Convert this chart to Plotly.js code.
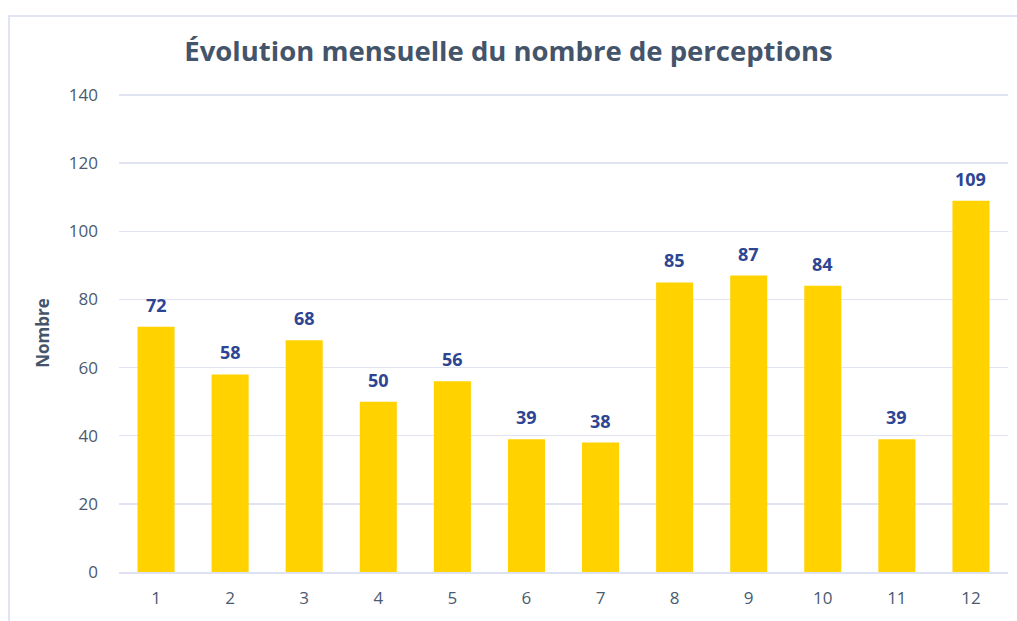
<!DOCTYPE html>
<html>
<head>
<meta charset="utf-8">
<script src="https://cdn.plot.ly/plotly-3.0.1.min.js"></script>
<style>
html,body{margin:0;padding:0;background:#fff;overflow:hidden;}
#wrap{position:relative;width:1017px;height:621px;}
#chart{width:1017px;height:621px;}
#frame{position:absolute;left:8px;top:15px;width:1030px;height:640px;border:2px solid #e0e4f3;box-sizing:border-box;pointer-events:none;}
</style>
</head>
<body>
<div id="wrap">
<div id="chart"></div>
<div id="frame"></div>
</div>
<script>
const months = ['1','2','3','4','5','6','7','8','9','10','11','12'];
const counts = [72, 58, 68, 50, 56, 39, 38, 85, 87, 84, 39, 109];
const yTicks = [0, 20, 40, 60, 80, 100, 120, 140];

const font = '"Segoe UI", "Open Sans", "Noto Sans", sans-serif';

const trace = {
  type: 'bar',
  x: months,
  y: counts,
  marker: {color: '#FFD200'},
  width: 0.5,
  hoverinfo: 'x+y'
};

const annotations = months.map((m, i) => ({
  x: i, y: counts[i], xref: 'x', yref: 'y',
  text: '<b>' + counts[i] + '</b>',
  showarrow: false, yanchor: 'bottom', yshift: 8,
  font: {family: font, size: 18, color: '#2E4593'}
}));

const layout = {
  width: 1017, height: 621,
  margin: {l: 119, r: 9, t: 94, b: 49},
  paper_bgcolor: '#ffffff', plot_bgcolor: '#ffffff',
  title: {
    text: '<b>Évolution mensuelle du nombre de perceptions</b>',
    font: {family: font, size: 27.5, color: '#44546A'},
    x: 0.5, xanchor: 'center', y: 0.918, yanchor: 'middle'
  },
  xaxis: {
    type: 'category',
    range: [-0.5, 11.5], autorange: false,
    tickfont: {family: font, size: 17, color: '#4A5A70'},
    showgrid: false, showline: true, linecolor: '#dde1f1', linewidth: 2,
    ticks: '', ticklabelstandoff: 10, fixedrange: true
  },
  yaxis: {
    range: [0, 140.3], autorange: false,
    tickvals: yTicks,
    tickfont: {family: font, size: 17, color: '#4A5A70'},
    gridcolor: '#dfe3f2', gridwidth: 1.5,
    zeroline: false, showline: false, ticks: '', ticklabelstandoff: 20,
    title: {text: '<b>Nombre</b>', font: {family: font, size: 17, color: '#44546A'}, standoff: 14},
    fixedrange: true
  },
  annotations: annotations,
  showlegend: false,
  bargap: 0.5
};

Plotly.newPlot('chart', [trace], layout, {displayModeBar: false, staticPlot: true});
</script>
</body>
</html>
